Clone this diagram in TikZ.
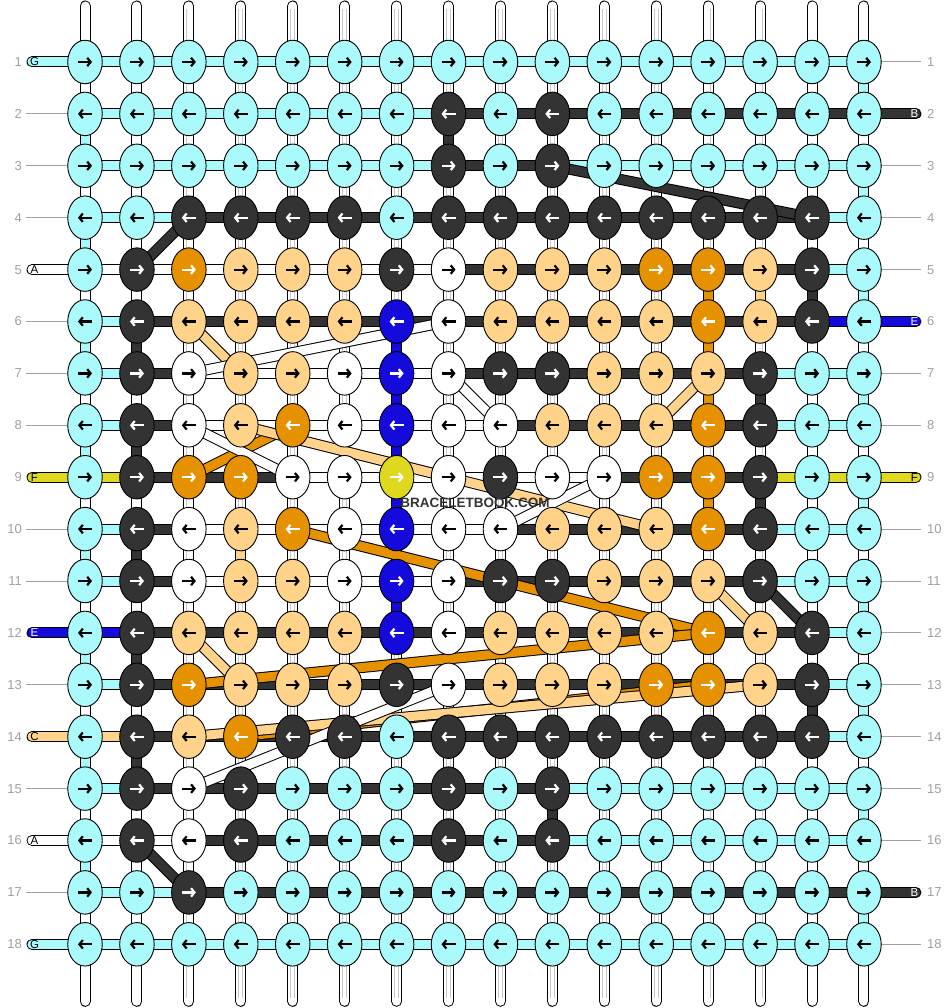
\documentclass[tikz,border=0pt]{standalone}
\usepackage{fontspec}
\setmainfont{Liberation Sans}
\usetikzlibrary{shapes.geometric,arrows.meta}
\definecolor{colC}{RGB}{170,250,252}
\definecolor{colD}{RGB}{51,51,51}
\definecolor{colO}{RGB}{229,145,0}
\definecolor{colL}{RGB}{255,211,137}
\definecolor{colU}{RGB}{20,10,220}
\definecolor{colY}{RGB}{222,216,30}
\definecolor{colW}{RGB}{255,255,255}
\colorlet{arrC}{black}\colorlet{arrD}{white}\colorlet{arrO}{white}\colorlet{arrL}{black}
\colorlet{arrU}{white}\colorlet{arrY}{white}\colorlet{arrW}{black}
\definecolor{lblgray}{RGB}{160,160,160}
\definecolor{strgray}{RGB}{200,200,200}
\newcommand\mylblfont{\fontsize{13}{14}\selectfont}
\newcommand\mytagfont{\fontsize{11.5}{12}\selectfont}
\newcommand\mywmfont{\fontsize{13.5}{14}\selectfont\bfseries}
\pgfdeclarelayer{bg}\pgfdeclarelayer{mid}\pgfsetlayers{bg,mid,main}
\tikzset{
  knot/.style={ellipse, draw=black, line width=0.9pt, fill=col#1, minimum width=34.5pt, minimum height=43.5pt, inner sep=0pt},
  arrowglyph/.style={draw=arr#1, line width=2.2pt, -{Straight Barb[length=3.4pt,width=8.5pt]}},
  band/.style={line width=1pt, draw=black, double=col#1, double distance=9pt},
  tagband/.style={band=#1, line cap=round},
  basestring/.style={line width=1pt, draw=black, double=white, double distance=9pt, line cap=round},
  innerstring/.style={line width=0.7pt, draw=strgray, double=white, double distance=3.4pt},
  grayline/.style={draw=lblgray, line width=1pt},
  rowlabel/.style={text=lblgray, font=\mylblfont, inner sep=0pt},
  taglabel/.style={font=\mytagfont, inner sep=0pt}
}
\begin{document}
\begin{tikzpicture}[x=1pt,y=-1pt]
\useasboundingbox (0,0) rectangle (948,1008);
% ---------------- knots ----------------
\foreach \r/\row in {
 1/{C,C,C,C,C,C,C,C,C,C,C,C,C,C,C,C},
 2/{C,C,C,C,C,C,C,D,C,D,C,C,C,C,C,C},
 3/{C,C,C,C,C,C,C,D,C,D,C,C,C,C,C,C},
 4/{C,C,D,D,D,D,C,D,D,D,D,D,D,D,D,C},
 5/{C,D,O,L,L,L,D,W,L,L,L,O,O,L,D,C},
 6/{C,D,L,L,L,L,U,W,L,L,L,L,O,L,D,C},
 7/{C,D,W,L,L,W,U,W,D,D,L,L,L,D,C,C},
 8/{C,D,W,L,O,W,U,W,W,L,L,L,O,D,C,C},
 9/{C,D,O,O,W,W,Y,W,D,W,W,O,O,D,C,C},
 10/{C,D,W,L,O,W,U,W,W,L,L,L,O,D,C,C},
 11/{C,D,W,L,L,W,U,W,D,D,L,L,L,D,C,C},
 12/{C,D,L,L,L,L,U,W,L,L,L,L,O,L,D,C},
 13/{C,D,O,L,L,L,D,W,L,L,L,O,O,L,D,C},
 14/{C,D,L,O,D,D,C,D,D,D,D,D,D,D,D,C},
 15/{C,D,W,D,C,C,C,D,C,D,C,C,C,C,C,C},
 16/{C,D,W,D,C,C,C,D,C,D,C,C,C,C,C,C},
 17/{C,C,D,C,C,C,C,C,C,C,C,C,C,C,C,C},
 18/{C,C,C,C,C,C,C,C,C,C,C,C,C,C,C,C}}{
  \foreach \k [count=\c] in \row {
    \node[knot=\k] (k-\r-\c) at ({85+(\c-1)*51.93},{62+(\r-1)*51.9}) {};
    \ifodd\r\relax
      \draw[arrowglyph=\k] ([xshift=-7pt]k-\r-\c.center) -- ([xshift=7pt]k-\r-\c.center);
    \else
      \draw[arrowglyph=\k] ([xshift=7pt]k-\r-\c.center) -- ([xshift=-7pt]k-\r-\c.center);
    \fi
  }
}
% ---------------- vertical base strings ----------------
\begin{pgfonlayer}{bg}
\foreach \c in {1,...,16}{
  \path (k-1-\c.center) ++(0,-56) coordinate (st-\c) ++(0,3) coordinate (sti-\c);
  \path (k-18-\c.center) ++(0,57) coordinate (sb-\c) ++(0,-3) coordinate (sbi-\c);
  \draw[basestring] (st-\c) -- (sb-\c);
  \draw[innerstring] (sti-\c) -- (sbi-\c);
}
\end{pgfonlayer}
% ---------------- threads ----------------
\begin{pgfonlayer}{mid}
% horizontal segments between knots
\foreach \r/\row in {
 1/{C,C,C,C,C,C,C,C,C,C,C,C,C,C,C},
 2/{C,C,C,C,C,C,C,D,D,D,D,D,D,D,D},
 3/{C,C,C,C,C,C,C,D,D,C,C,C,C,C,C},
 4/{C,C,D,D,D,D,D,D,D,D,D,D,D,D,C},
 5/{W,W,W,W,W,W,W,D,D,D,D,D,D,D,C},
 6/{C,D,D,D,D,D,D,D,D,D,D,D,D,D,U},
 7/{C,D,W,W,W,W,W,D,D,D,D,D,D,C,C},
 8/{C,D,W,W,W,W,W,W,D,D,D,D,D,C,C},
 9/{Y,D,D,D,W,W,W,W,W,W,D,D,D,Y,Y},
 10/{C,D,W,W,W,W,W,W,D,D,D,D,D,C,C},
 11/{C,D,W,W,W,W,W,D,D,D,D,D,D,C,C},
 12/{U,D,D,D,D,D,D,D,D,D,D,D,D,D,C},
 13/{C,D,D,D,D,D,D,D,D,D,D,D,D,D,C},
 14/{L,D,D,D,D,D,D,D,D,D,D,D,D,D,C},
 15/{C,D,D,D,D,D,D,D,D,C,C,C,C,C,C},
 16/{W,W,D,D,D,D,D,D,D,C,C,C,C,C,C},
 17/{C,C,D,D,D,D,D,D,D,D,D,D,D,D,D},
 18/{C,C,C,C,C,C,C,C,C,C,C,C,C,C,C}}{
  \foreach \s [count=\c] in \row {
    \pgfmathtruncatemacro\cn{\c+1}
    \draw[band=\s] (k-\r-\c.center) -- (k-\r-\cn.center);
  }
}
% vertical coloured segments (column/upper row/colour)
\foreach \cc/\rr/\s in {
 1/2/C,1/4/C,1/6/C,1/8/C,1/10/C,1/12/C,1/14/C,1/16/C,
 16/1/C,16/3/C,16/5/C,16/7/C,16/9/C,16/11/C,16/13/C,16/15/C,16/17/C,
 8/2/D,15/5/D,2/6/D,14/7/D,2/8/D,14/9/D,2/10/D,2/12/D,15/13/D,2/14/D,10/15/D,
 7/6/U,7/7/U,7/8/U,7/9/U,7/10/U,7/11/U,
 14/5/L,4/10/L,
 13/5/O,13/6/O,13/7/O,13/9/O}{
  \pgfmathtruncatemacro\rn{\rr+1}
  \draw[band=\s] (k-\rr-\cc.center) -- (k-\rn-\cc.center);
}
% diagonal runs (col/row -> col/row)
\foreach \ca/\ra/\cb/\rb/\s in {
 10/3/15/4/D, 3/4/2/5/D, 14/11/15/12/D, 2/16/3/17/D,
 5/8/3/9/O, 5/10/13/12/O, 13/12/3/13/O, 13/13/4/14/O,
 3/6/4/7/L, 13/7/12/8/L, 4/8/12/10/L, 13/11/14/12/L, 3/12/4/13/L, 14/13/3/14/L,
 8/6/3/7/W, 8/7/9/8/W, 3/8/5/9/W, 11/9/9/10/W, 8/13/3/15/W}{
  \draw[band=\s] (k-\ra-\ca.center) -- (k-\rb-\cb.center);
}
% left tags
\foreach \r/\s/\t/\tc in {1/C/G/black,5/W/A/black,9/Y/F/black,12/U/E/white,14/L/C/black,16/W/A/black,18/C/G/black}{
  \path (k-\r-1.center) ++(-53,0) coordinate (lt-\r);
  \draw[tagband=\s] (lt-\r) -- (k-\r-1.center);
  \node[taglabel, text=\tc] (ltl-\r) at ([xshift=2.5pt]lt-\r) {\t};
}
% right tags
\foreach \r/\s/\t/\tc in {2/D/B/white,6/U/E/white,9/Y/F/black,17/D/B/white}{
  \path (k-\r-16.center) ++(52,0) coordinate (rt-\r);
  \draw[tagband=\s] (k-\r-16.center) -- (rt-\r);
  \node[taglabel, text=\tc] (rtl-\r) at ([xshift=-1.5pt]rt-\r) {\t};
}
% thin grey leader lines
\foreach \r in {2,3,4,6,7,8,10,11,13,15,17}{
  \path (k-\r-1.center) ++(-59,0) coordinate (lg-\r);
  \draw[grayline] (lg-\r) -- (k-\r-1.center);
}
\foreach \r in {1,3,4,5,7,8,10,11,12,13,14,15,16,18}{
  \path (k-\r-16.center) ++(57,0) coordinate (rg-\r);
  \draw[grayline] (k-\r-16.center) -- (rg-\r);
}
\end{pgfonlayer}
% row numbers
\foreach \r in {1,...,18}{
  \node[rowlabel, anchor=east] (ll-\r) at ([xshift=-63pt]k-\r-1.center) {\r};
  \node[rowlabel, anchor=west] (rl-\r) at ([xshift=63pt]k-\r-16.center) {\r};
}
% watermark
\node[font=\mywmfont, text=colD, inner sep=0pt] (wm) at (475,503) {BRACELETBOOK.COM};
\end{tikzpicture}
\end{document}
